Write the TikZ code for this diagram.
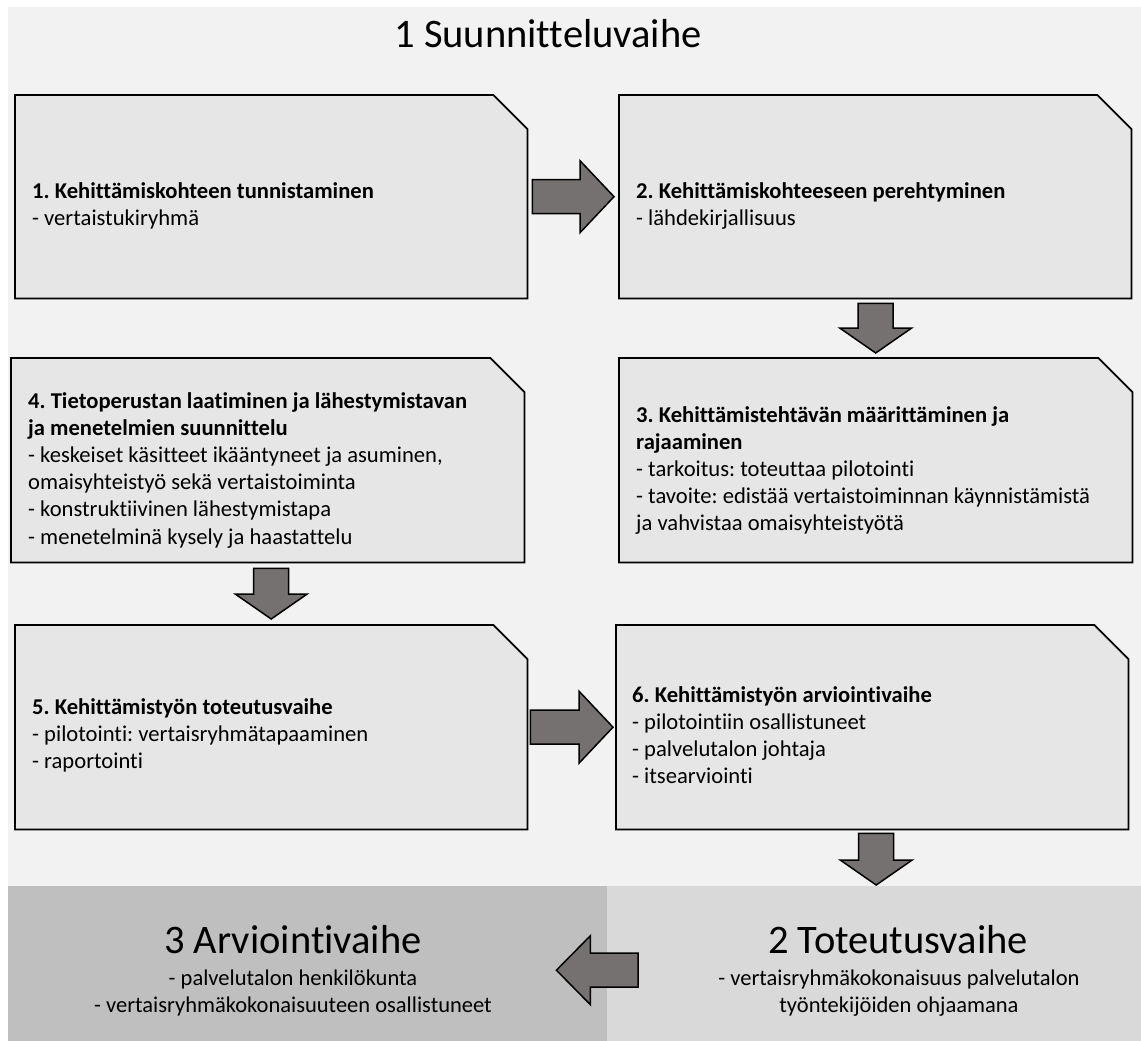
\documentclass[tikz,border=0pt]{standalone}
\usepackage{fontspec}
\setmainfont{Carlito}[Ligatures={NoCommon}]
\frenchspacing
\usetikzlibrary{calc}
\definecolor{bgA}{HTML}{F2F2F2}
\definecolor{boxfill}{HTML}{E6E6E6}
\definecolor{arrfill}{HTML}{767171}
\definecolor{panelL}{HTML}{BFBFBF}
\definecolor{panelR}{HTML}{D9D9D9}
\tikzset{
  boxarea/.style={draw=none, inner sep=0pt, anchor=north west},
  boxline/.style={draw=black, fill=boxfill, line width=1.8pt, line join=miter},
  panel/.style={draw=none, inner sep=0pt, anchor=north west},
  blk/.style={draw=black, fill=arrfill, line width=1.5pt, line join=miter},
  boxtext/.style={anchor=base west, inner sep=0pt, font=\fontsize{22.6pt}{27.2pt}\selectfont},
  phasetitle/.style={anchor=base, inner sep=0pt, font=\fontsize{40.5pt}{48pt}\selectfont},
  phasesub/.style={anchor=base, inner sep=0pt, font=\fontsize{22.5pt}{27pt}\selectfont}
}
\newcommand{\txtlines}[1]{\begin{tabular}[t]{@{}l@{}}#1\end{tabular}}
\newcommand{\snipbox}[1]{\draw[boxline] (#1.south west) -- (#1.north west) -- ([xshift=-34pt]#1.north east) -- ([yshift=-34pt]#1.north east) -- (#1.south east) -- cycle;}
\newcommand{\arrR}[2]{\draw[blk] let \p1=(#1), \p2=(#2) in ({\x1},{\y2+17pt}) -- ({\x2-34pt},{\y2+17pt}) -- ({\x2-34pt},{\y2+36pt}) -- (\p2) -- ({\x2-34pt},{\y2-36pt}) -- ({\x2-34pt},{\y2-17pt}) -- ({\x1},{\y2-17pt}) -- cycle;}
\newcommand{\arrL}[2]{\draw[blk] let \p1=(#1), \p2=(#2) in ({\x1},{\y2+17pt}) -- ({\x2+34pt},{\y2+17pt}) -- ({\x2+34pt},{\y2+34.5pt}) -- (\p2) -- ({\x2+34pt},{\y2-34.5pt}) -- ({\x2+34pt},{\y2-17pt}) -- ({\x1},{\y2-17pt}) -- cycle;}
\newcommand{\arrD}[2]{\draw[blk] let \p1=(#1), \p2=(#2) in ({\x2-17.5pt},{\y1}) -- ({\x2-17.5pt},{\y2+25pt}) -- ({\x2-36pt},{\y2+25pt}) -- (\p2) -- ({\x2+36pt},{\y2+25pt}) -- ({\x2+17.5pt},{\y2+25pt}) -- ({\x2+17.5pt},{\y1}) -- cycle;}
\begin{document}
\begin{tikzpicture}[x=1pt,y=-1pt]
\useasboundingbox (0,0) rectangle (1141,1041);
\fill[white] (0,0) rectangle (1141,1041);
\fill[bgA] (8,7) rectangle (1141,886);
\node[panel, fill=panelL, minimum width=599pt, minimum height=155pt] (p3) at (8,886) {};
\node[panel, fill=panelR, minimum width=534pt, minimum height=155pt] (p2) at (607,886) {};

\node[phasetitle] (title1) at (548,48) {1 Suunnitteluvaihe};

\node[boxarea, minimum width=512pt, minimum height=203pt] (b1) at (15,95) {};
\node[boxarea, minimum width=512pt, minimum height=203pt] (b2) at (619,95) {};
\node[boxarea, minimum width=513pt, minimum height=204pt] (b3) at (619,358) {};
\node[boxarea, minimum width=513pt, minimum height=204pt] (b4) at (11,358) {};
\node[boxarea, minimum width=512pt, minimum height=204pt] (b5) at (15,625) {};
\node[boxarea, minimum width=512pt, minimum height=204pt] (b6) at (616,625) {};
\snipbox{b1}\snipbox{b2}\snipbox{b3}\snipbox{b4}\snipbox{b5}\snipbox{b6}

\node[boxtext] (t1) at (32,198) {\txtlines{\textbf{1. Kehittämiskohteen tunnistaminen}\\- vertaistukiryhmä}};
\node[boxtext] (t2) at (636,198) {\txtlines{\textbf{2. Kehittämiskohteeseen perehtyminen}\\- lähdekirjallisuus}};
\node[boxtext] (t3) at (636,422) {\txtlines{\textbf{3. Kehittämistehtävän määrittäminen ja}\\\textbf{rajaaminen}\\- tarkoitus: toteuttaa pilotointi\\- tavoite: edistää vertaistoiminnan käynnistämistä\\ja vahvistaa omaisyhteistyötä}};
\node[boxtext] (t4) at (28,408) {\txtlines{\textbf{4. Tietoperustan laatiminen ja lähestymistavan}\\\textbf{ja menetelmien suunnittelu}\\- keskeiset käsitteet ikääntyneet ja asuminen,\\omaisyhteistyö sekä vertaistoiminta\\- konstruktiivinen lähestymistapa\\- menetelminä kysely ja haastattelu}};
\node[boxtext] (t5) at (32,714) {\txtlines{\textbf{5. Kehittämistyön toteutusvaihe}\\- pilotointi: vertaisryhmätapaaminen\\- raportointi}};
\node[boxtext] (t6) at (632,702) {\txtlines{\textbf{6. Kehittämistyön arviointivaihe}\\- pilotointiin osallistuneet\\- palvelutalon johtaja\\- itsearviointi}};

\node[phasetitle] (title3) at (293,953) {3 Arviointivaihe};
\node[phasesub] (s3a) at (293,985) {- palvelutalon henkilökunta};
\node[phasesub] (s3b) at (293,1012) {- vertaisryhmäkokonaisuuteen osallistuneet};
\node[phasetitle] (title2) at (898,953) {2 Toteutusvaihe};
\node[phasesub] (s2a) at (899,985) {- vertaisryhmäkokonaisuus palvelutalon};
\node[phasesub] (s2b) at (899,1012) {työntekijöiden ohjaamana};

\coordinate (a12s) at ([xshift=5pt]b1.east);
\coordinate (a12e) at ([xshift=-5pt]b2.west);
\coordinate (a23s) at ([yshift=-5pt]b2.south);
\coordinate (a23e) at ([yshift=5pt]b3.north);
\coordinate (a45s) at ([yshift=-6pt]b4.south);
\coordinate (a45e) at ([yshift=6pt]b5.north);
\coordinate (a56s) at ([xshift=3pt]b5.east);
\coordinate (a56e) at ([xshift=-3pt]b6.west);
\coordinate (a6s) at ([yshift=-4pt]b6.south);
\coordinate (a6e) at ([xshift=2pt,yshift=1pt]p2.north);
\coordinate (aLs) at ([xshift=31pt,yshift=-6.5pt]p2.west);
\coordinate (aLe) at ([xshift=-51pt,yshift=-6.5pt]p3.east);
\arrR{a12s}{a12e}
\arrD{a23s}{a23e}
\arrD{a45s}{a45e}
\arrR{a56s}{a56e}
\arrD{a6s}{a6e}
\arrL{aLs}{aLe}
\end{tikzpicture}
\end{document}
